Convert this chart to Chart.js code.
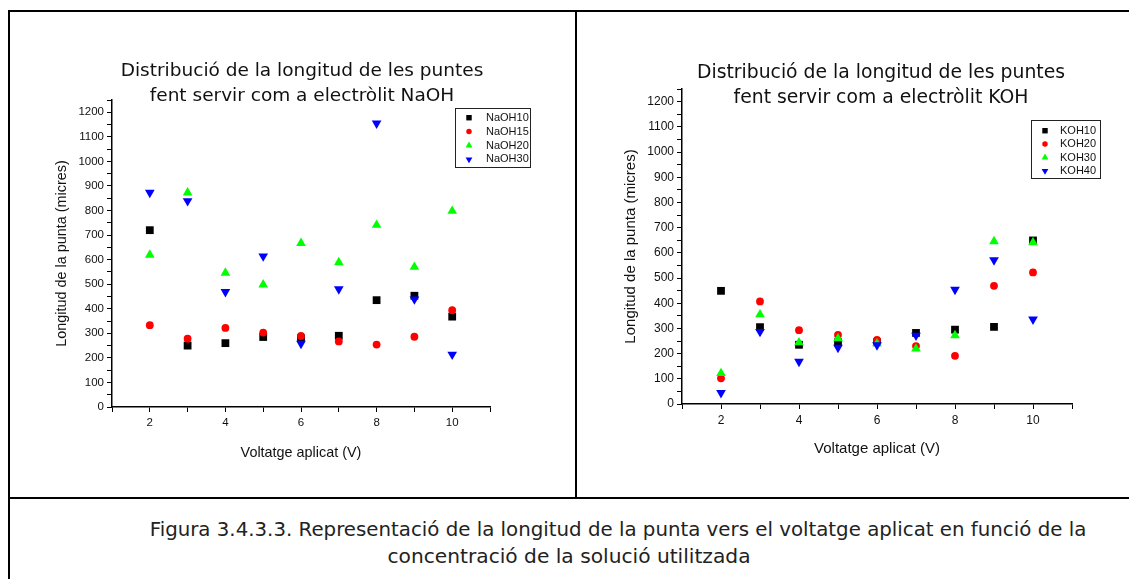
<!DOCTYPE html>
<html>
<head>
<meta charset="utf-8">
<script src="https://cdn.jsdelivr.net/npm/chart.js@4.4.1/dist/chart.umd.min.js"></script>
<style>
    body { margin: 0; background: #fff; width: 1129px; height: 579px; overflow: hidden; position: relative; font-family: "DejaVu Sans", Verdana, sans-serif; }
    .rule { position: absolute; background: #000; }
    canvas { position: absolute; }
    .title { position: absolute; text-align: center; font-size: 18.5px; line-height: 25px; color: #111; white-space: nowrap; }
    .caption { position: absolute; text-align: center; font-size: 19.8px; line-height: 26px; color: #222; white-space: nowrap; }
</style>
</head>
<body>
<div class="rule" style="left:8px;top:10px;width:1121px;height:2px"></div>
<div class="rule" style="left:8px;top:10px;width:2px;height:569px"></div>
<div class="rule" style="left:575px;top:11px;width:1.5px;height:487px"></div>
<div class="rule" style="left:9px;top:497px;width:1120px;height:1.5px"></div>

<canvas id="naohChart" width="565" height="485" style="left:10px;top:12px"></canvas>
<canvas id="kohChart" width="552" height="485" style="left:577px;top:12px"></canvas>

<div class="title" style="left:102px;top:57px;width:400px">Distribució de la longitud de les puntes<br>fent servir com a electròlit NaOH</div>
<div class="title" style="left:681px;top:59px;width:400px;font-size:18.8px">Distribució de la longitud de les puntes<br>fent servir com a electròlit KOH</div>
<div class="caption" style="left:118px;top:517px;width:1000px">Figura 3.4.3.3. Representació de la longitud de la punta vers el voltatge aplicat en funció de la</div>
<div class="caption" style="left:269px;top:543px;width:600px;font-size:20.2px">concentració de la solució utilitzada</div>

<script>
// dades llegides del gràfic
const voltages = [2, 3, 4, 5, 6, 7, 8, 9, 10];

const naohLabels = ['NaOH10', 'NaOH15', 'NaOH20', 'NaOH30'];
const naoh10 = [720, 250, 260, 285, 280, 290, 435, 453, 368];
const naoh15 = [333, 278, 322, 303, 289, 267, 254, 286, 394];
const naoh20 = [619, 873, 546, 498, 667, 589, 741, 570, 798];
const naoh30 = [873, 839, 469, 614, 258, 480, 1155, 439, 214];

const kohLabels = ['KOH10', 'KOH20', 'KOH30', 'KOH40'];
const koh10 = [449, 305, 235, 245, 245, 282, 295, 306, 649];
const koh20 = [102, 407, 293, 274, 254, 230, 191, 469, 522];
const koh30 = [122, 355, 244, 260, 240, 219, 272, 645, 641];
const koh40 = [44, 287, 168, 224, 234, 272, 454, 571, 336];

const xTitle = 'Voltatge aplicat (V)';
const yTitle = 'Longitud de la punta (micres)';

// estil dels marcadors (quadrat, cercle, triangle, triangle invertit)
const markers = [
    { color: '#000000', style: 'rect', radius: 5.5, rotation: 0 },
    { color: '#ff0000', style: 'circle', radius: 3.9, rotation: 0 },
    { color: '#00ff00', style: 'triangle', radius: 5.6, rotation: 0 },
    { color: '#0000ff', style: 'triangle', radius: 5.6, rotation: 180 }
];

const fontFamily = '"Liberation Sans", Arial, sans-serif';

Chart.defaults.color = '#111';

// dibuixa un marcador petit per a la llegenda
function drawMarker(ctx, m, x, y, r) {
    ctx.fillStyle = m.color;
    ctx.beginPath();
    if (m.style === 'rect') {
        const s = r * Math.SQRT1_2;
        ctx.rect(x - s, y - s, 2 * s, 2 * s);
    } else if (m.style === 'circle') {
        ctx.arc(x, y, r, 0, Math.PI * 2);
    } else {
        const dir = m.rotation ? -1 : 1;
        const h = Math.sin(Math.PI / 3) * r;
        ctx.moveTo(x, y - dir * r);
        ctx.lineTo(x + h, y + dir * r / 2);
        ctx.lineTo(x - h, y + dir * r / 2);
        ctx.closePath();
    }
    ctx.fill();
}

const boxLegend = {
    id: 'boxLegend',
    afterDraw(chart, args, opts) {
        const ctx = chart.ctx;
        ctx.save();
        ctx.strokeStyle = '#222';
        ctx.lineWidth = 1;
        ctx.strokeRect(opts.x + 0.5, opts.y + 0.5, opts.w, opts.h);
        ctx.font = '11px ' + fontFamily;
        ctx.textBaseline = 'middle';
        chart.data.datasets.forEach((ds, i) => {
            const y = opts.y + opts.first + i * opts.row;
            drawMarker(ctx, markers[i], opts.x + opts.markX, y, markers[i].radius * 0.7);
            ctx.fillStyle = '#111';
            ctx.fillText(ds.label, opts.x + opts.textX, y);
        });
        ctx.restore();
    }
};

function buildDatasets(labels, series) {
    return series.map((vals, i) => ({
        label: labels[i],
        data: voltages.map((v, j) => ({ x: v, y: vals[j] })),
        pointStyle: markers[i].style,
        pointRadius: markers[i].radius,
        pointRotation: markers[i].rotation,
        pointBackgroundColor: markers[i].color,
        pointBorderColor: markers[i].color,
        pointBorderWidth: 0,
        showLine: false,
        order: 4 - i
    }));
}

function axisOptions(tickSize, titleSize, yTitlePad, xTitlePad) {
    const grid = { drawOnChartArea: false, drawTicks: true, tickLength: 5, color: '#000', tickWidth: 1 };
    const tickFont = { family: fontFamily, size: tickSize };
    const titleFont = { family: fontFamily, size: titleSize };
    return {
        x: {
            type: 'linear', min: 1, max: 11,
            afterFit: s => { s.height = 60; },
            border: { display: true, color: '#000', width: 1.5 },
            grid: grid,
            ticks: {
                stepSize: 1, autoSkip: false, maxRotation: 0, padding: 4, font: tickFont,
                callback: v => (v % 2 === 0 ? v : '')
            },
            title: { display: true, text: xTitle, font: titleFont, padding: { top: 0, bottom: xTitlePad } }
        },
        y: {
            type: 'linear', min: 0, max: 1250,
            afterFit: s => { s.width = 60; },
            border: { display: true, color: '#000', width: 1.5 },
            grid: grid,
            ticks: {
                stepSize: 50, autoSkip: false, padding: 3, font: tickFont,
                callback: v => (v % 100 === 0 ? v : '')
            },
            title: { display: true, text: yTitle, font: titleFont, padding: { top: yTitlePad, bottom: 0 } }
        }
    };
}

function makeChart(id, labels, series, padding, axes, legend) {
    return new Chart(document.getElementById(id), {
        type: 'scatter',
        data: { datasets: buildDatasets(labels, series) },
        options: {
            responsive: false,
            animation: false,
            devicePixelRatio: 1,
            layout: { padding: padding },
            plugins: { legend: { display: false }, tooltip: { enabled: false }, boxLegend: legend },
            scales: axes
        },
        plugins: [boxLegend]
    });
}

makeChart('naohChart', naohLabels, [naoh10, naoh15, naoh20, naoh30],
    { left: 42, top: 88, right: 85, bottom: 30 },
    axisOptions(11.5, 14.4, 1, 5),
    { x: 445, y: 96, w: 75, h: 59, first: 9.7, row: 13.9, markX: 14, textX: 31 });

makeChart('kohChart', kohLabels, [koh10, koh20, koh30, koh40],
    { left: 45, top: 77, right: 57, bottom: 33 },
    axisOptions(12, 15, 0, 6),
    { x: 454, y: 108, w: 69, h: 58, first: 10.7, row: 13.4, markX: 14, textX: 29 });
</script>
</body>
</html>
